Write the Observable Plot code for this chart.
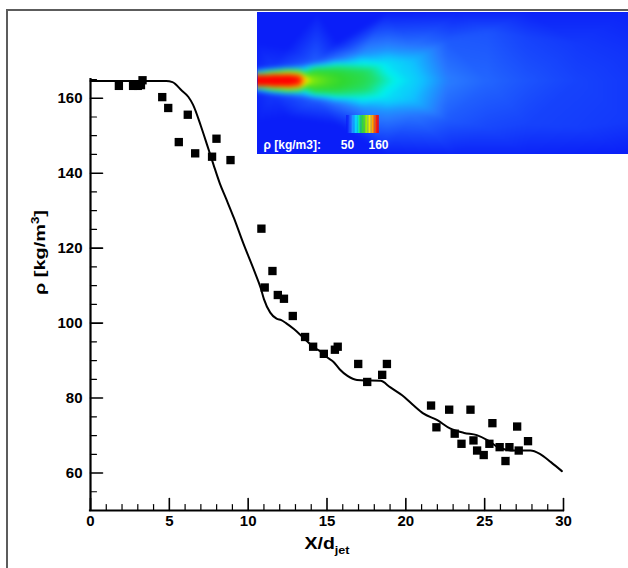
<!DOCTYPE html>
<html><head><meta charset="utf-8">
<script src="https://cdn.jsdelivr.net/npm/d3@7"></script>
<script src="https://cdn.jsdelivr.net/npm/@observablehq/plot@0.6"></script>
<style>
body{margin:0;background:#fff;}
#wrap{position:relative;width:628px;height:568px;overflow:hidden;background:#fff;}
#main{position:absolute;left:0;top:0;}
#frame{position:absolute;left:6px;top:9px;width:700px;height:700px;border-left:2px solid #5c5c5c;border-top:2px solid #5c5c5c;}
#inset{position:absolute;left:257px;top:12px;width:371px;height:142px;}
</style></head><body>
<div id="wrap"><div id="main"></div><div id="frame"></div><div id="inset"></div></div>
<script>
// Experimental data (squares)
const expX = [1.8,2.7,3.0,3.2,3.3,4.55,4.93,5.6,6.17,6.64,7.71,7.99,8.88,10.84,11.05,11.54,11.88,12.27,12.83,13.61,14.12,14.8,15.5,15.68,16.98,17.55,18.5,18.8,21.6,21.94,22.75,23.1,23.53,24.1,24.29,24.52,24.94,25.3,25.49,25.95,26.32,26.57,27.06,27.16,27.75];
const expRho = [163.3,163.3,163.3,163.5,164.8,160.3,157.4,148.3,155.6,145.3,144.4,149.2,143.5,125.2,109.5,113.9,107.5,106.5,101.9,96.3,93.7,91.8,92.9,93.7,89.1,84.3,86.2,89.1,78.0,72.2,76.9,70.5,67.8,76.9,68.7,66.0,64.8,67.8,73.3,66.9,63.2,66.9,72.4,66.0,68.5];
// Simulation (line)
const simX = [0,4.8,5.2,5.8,6.2,6.5,7.0,7.4,7.8,8.2,8.6,9.1,9.7,10.4,10.8,11.0,11.4,11.8,12.1,12.4,12.9,13.3,13.7,14.2,14.6,15.0,15.4,15.8,16.3,16.9,17.4,17.8,18.4,19.0,19.9,20.5,21.1,22.0,22.8,23.7,24.5,25.2,25.8,26.3,26.8,27.9,28.5,29.2,29.9];
const simRho = [164.6,164.6,164.3,162,160.4,158.3,152.6,147.5,142.3,137.3,133.2,128,121.2,113.8,109.3,106.4,102.8,101.2,100.8,100,98.4,96.9,95.3,93.4,92.4,90.9,89.7,87.7,85.9,84.8,84.7,84.7,84.6,82.9,80.3,78.0,75.9,74.1,71.9,70.7,70.1,68.7,67,66.3,66,66,65.1,62.9,60.5];
// Axes
const xMajor = [0,5,10,15,20,25,30];
const xMinor = [1,2,3,4,6,7,8,9,11,12,13,14,16,17,18,19,21,22,23,24,26,27,28,29];
const yMajor = [60,80,100,120,140,160];
const yMinor = [55,65,70,75,85,90,95,105,110,115,125,130,135,145,150,155,165];
// Inset density field samples (pixel grid of the inset, rho in kg/m3)
const plumeX = [0,0,0,0,0,0,0, 15,15,15,15,15,15,15, 30,30,30,30,30,30,30, 42,42,42,42,42,42,42, 50,50,50, 58,58,58,58,58,58,58, 78,78,78,78,78,78,78, 105,105,105,105,105,105,105, 130,130,130,130,130, 155,155,155,155,155, 190,190,190, 230,230,230, 270,270,270, 320,320,320, 371,371,371,
  0,60,130,200,270,371, 0,60,130,200,270,371, 0,0,30,30,80,80];
const plumeY = [56,60,63,68,73,76,80, 55,59,63,68,73,77,82, 54,58,63,68,73,78,83, 53,58,63,68,73,78,84, 63,68,73, 50,56,62,68,74,80,87, 47,54,61,68,75,82,90, 42,52,60,68,76,85,95, 38,50,68,86,98, 34,48,68,88,102, 28,68,108, 20,68,115, 25,68,112, 30,68,115, 40,68,110,
  0,0,0,0,0,0, 142,142,142,142,142,142, 30,110,35,105,30,112];
const plumeV = [52,80,158,160,158,80,52, 55,100,160,162,160,100,55, 58,105,158,162,158,105,58, 60,100,150,158,150,100,60, 112,132,112, 62,98,110,116,110,98,62, 66,95,106,108,106,95,66, 70,88,100,102,98,88,70, 70,82,90,82,70, 66,76,80,76,66, 61,67,61, 60,63,58, 57,60,57, 55,57,56, 54,55,55,
  50,50,50,51,51,51, 50,50,50,51,51,50, 50,50,50,50,50,50];
// Colour map stops
const cStops = [50,58,66,76,86,96,106,120,132,145,158];
const cColors = ["#0a1ef8","#1848fc","#2878ff","#10c0ff","#00f0f0","#20e070","#30d830","#a0f000","#ffe800","#ff8000","#ff0000"];
const cbarValues = [50,55,60,65,70,75,80,85,90,95,100,105,110,115,120,125,130,135,140,145,150,155,160];

const font = "'Liberation Sans', Arial, Helvetica, sans-serif";
const exp = expX.map((x, i) => ({x, rho: expRho[i]}));
const sim = simX.map((x, i) => ({x, rho: simRho[i]}));
const tickShape = {draw(ctx, l) { ctx.moveTo(0, 0); ctx.lineTo(0, -l); }};

const main = Plot.plot({
  width: 628, height: 568,
  marginLeft: 90, marginRight: 65, marginTop: 79, marginBottom: 58,
  style: {fontFamily: font, fontSize: "15px", fontWeight: "bold", color: "black", background: "white"},
  x: {domain: [0, 30]},
  y: {domain: [50, 165]},
  marks: [
    Plot.axisX({ticks: xMajor, tickSize: 0, tickPadding: 5, label: null, tickFormat: d => d}),
    Plot.axisY({ticks: yMajor, tickSize: 0, tickPadding: 8, label: null, tickFormat: d => d}),
    Plot.vector(xMajor, {x: d => d, y: 50, length: 12, rotate: 0, anchor: "start", shape: tickShape, stroke: "black", strokeWidth: 1.6}),
    Plot.vector(xMinor, {x: d => d, y: 50, length: 6, rotate: 0, anchor: "start", shape: tickShape, stroke: "black", strokeWidth: 1.2}),
    Plot.vector(yMajor, {x: 0, y: d => d, length: 12, rotate: 90, anchor: "start", shape: tickShape, stroke: "black", strokeWidth: 1.6}),
    Plot.vector(yMinor, {x: 0, y: d => d, length: 6, rotate: 90, anchor: "start", shape: tickShape, stroke: "black", strokeWidth: 1.2}),
    Plot.ruleX([0], {stroke: "black", strokeWidth: 2.2, strokeLinecap: "square"}),
    Plot.ruleY([50], {stroke: "black", strokeWidth: 2.2, strokeLinecap: "square"}),
    Plot.line(sim, {x: "x", y: "rho", curve: "monotone-x", stroke: "black", strokeWidth: 2}),
    Plot.dot(exp, {x: "x", y: "rho", symbol: "square", r: 4.7, fill: "black", stroke: "none"}),
    Plot.text(["X/d"], {frameAnchor: "bottom", dy: 38, fontSize: 17, fontWeight: "bold", fill: "black"}),
    Plot.text(["ρ [kg/m"], {frameAnchor: "left", dx: -50, rotate: -90, fontSize: 15, fontWeight: "bold", fill: "black"})
  ]
});
document.getElementById("main").appendChild(main);

d3.select(main).selectAll("text").each(function() {
  const t = d3.select(this);
  const s = t.text();
  if (s === "X/d") {
    t.append("tspan").attr("dy", 5).attr("font-size", 11).text("jet");
    t.attr("textLength", 45).attr("lengthAdjust", "spacingAndGlyphs");
  } else if (s === "ρ [kg/m") {
    t.append("tspan").attr("dy", -6).attr("font-size", 10).text("3");
    t.append("tspan").attr("dy", 6).attr("font-size", 15).text("]");
    t.attr("textLength", 85).attr("lengthAdjust", "spacingAndGlyphs");
  }
});

const plume = plumeX.map((x, i) => ({x, y: plumeY[i], v: plumeV[i]}));
const cbarW = 31 / (cbarValues.length - 1);
const inset = Plot.plot({
  width: 371, height: 142, margin: 0,
  style: {fontFamily: font, background: "#0a1ef8"},
  x: {domain: [0, 371], axis: null},
  y: {domain: [0, 142], reverse: true, axis: null},
  color: {type: "linear", domain: cStops, range: cColors, clamp: true, interpolate: "rgb"},
  marks: [
    Plot.raster(plume, {x: "x", y: "y", fill: "v", x1: 0, x2: 371, y1: 0, y2: 142, interpolate: "barycentric", blur: 2, pixelSize: 1}),
    Plot.rect(cbarValues, {x1: (d, i) => 90 + i * cbarW - cbarW / 2, x2: (d, i) => 90 + i * cbarW + cbarW / 2, y1: 103, y2: 121, fill: d => d}),
    Plot.text(["ρ [kg/m3]:"], {x: 6, y: 136, textAnchor: "start", lineAnchor: "bottom", fill: "white", fontSize: 12, fontWeight: "bold"}),
    Plot.text(["50"], {x: 90, y: 136, lineAnchor: "bottom", fill: "white", fontSize: 12, fontWeight: "bold"}),
    Plot.text(["160"], {x: 121, y: 136, lineAnchor: "bottom", fill: "white", fontSize: 12, fontWeight: "bold"})
  ]
});
document.getElementById("inset").appendChild(inset);
</script>
</body></html>
